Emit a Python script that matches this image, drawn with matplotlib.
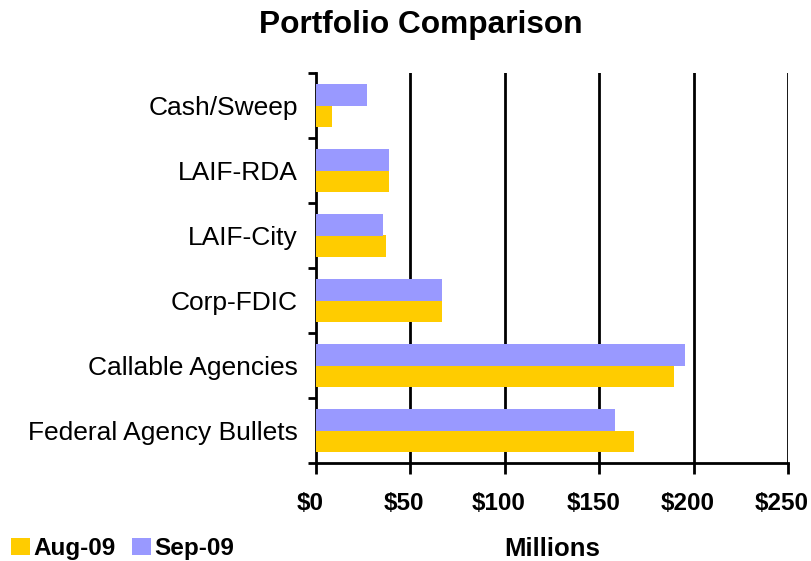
import numpy as np
import matplotlib
matplotlib.use("Agg")
import matplotlib.pyplot as plt
from matplotlib.transforms import ScaledTranslation

categories = ["Federal Agency Bullets", "Callable Agencies", "Corp-FDIC",
              "LAIF-City", "LAIF-RDA", "Cash/Sweep"]
aug_09 = [168.3, 189.5, 66.6, 36.9, 38.5, 8.3]
sep_09 = [158.2, 195.4, 66.6, 35.3, 38.5, 26.8]
x_ticks = [0, 50, 100, 150, 200, 250]
x_labels = ["$0", "$50", "$100", "$150", "$200", "$250"]

plt.rcParams['font.family'] = ['Liberation Sans', 'DejaVu Sans']

fig = plt.figure(figsize=(8.11, 5.61), dpi=100)
ax = fig.add_axes([316 / 811, 1 - 463 / 561, 472 / 811, 390 / 561])

y = np.arange(len(categories))
h = 0.333
ax.barh(y - h / 2, aug_09, height=h, color="#FFCC00", label="Aug-09", zorder=3)
ax.barh(y + h / 2, sep_09, height=h, color="#9999FF", label="Sep-09", zorder=3)

ax.set_xlim(0, 250)
ax.set_ylim(-0.5, len(categories) - 0.5)
ax.set_xticks(x_ticks)
ax.set_xticklabels([])
ax.set_yticks(y)
ax.set_yticklabels(categories, fontsize=19)
ax.set_yticks(np.arange(-0.5, len(categories), 1), minor=True)
ax.tick_params(axis="y", which="major", length=0, pad=13)
ax.tick_params(axis="y", which="minor", length=6, width=2, direction="out")
ax.tick_params(axis="x", length=8, width=2, direction="out")

# tick labels sit well below the axis and a little left of their ticks
lab_tr = ax.get_xaxis_transform() + ScaledTranslation(-6 / 100, -40 / 100, fig.dpi_scale_trans)
for v, s in zip(x_ticks, x_labels):
    ax.text(v, 0, s, transform=lab_tr, ha="center", va="center",
            fontsize=17.5, fontweight="bold", clip_on=False)

for v in x_ticks[1:]:
    ax.axvline(v, color="black", lw=2, zorder=2)

for s in ["top", "right"]:
    ax.spines[s].set_visible(False)
ax.spines["left"].set_linewidth(2)
ax.spines["bottom"].set_linewidth(2)

fig.text(552 / 811, 1 - 556 / 561, "Millions", fontsize=18.5, fontweight="bold",
         ha="center", va="baseline")
fig.text(421 / 811, 1 - 33 / 561, "Portfolio Comparison", fontsize=22.8,
         fontweight="bold", ha="center", va="baseline")

fig.legend(loc="lower left", bbox_to_anchor=(-0.013, -0.037), ncol=2, frameon=False,
           prop={"size": 17.5, "weight": "bold"}, handlelength=0.78,
           handleheight=0.7, handletextpad=0.12, columnspacing=0.7)

fig.savefig("out.png", dpi=100)
